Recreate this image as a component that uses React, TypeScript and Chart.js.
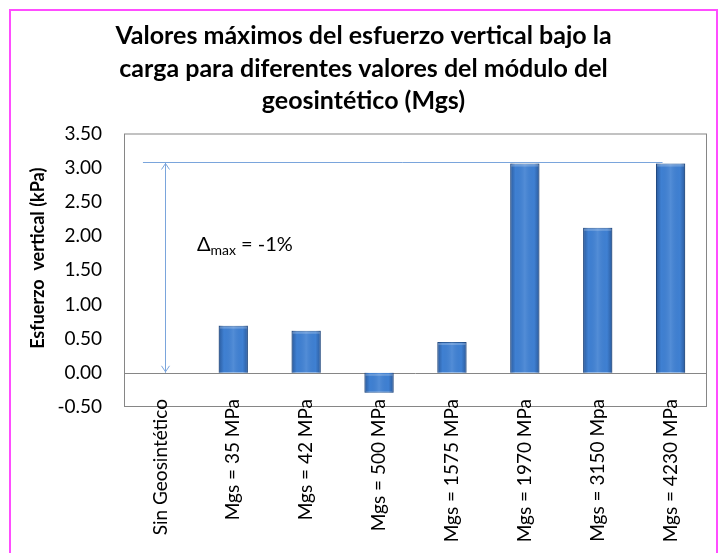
import React, { useEffect, useRef } from "react";
import { Chart, registerables } from "chart.js";

Chart.register(...registerables);

const categories = [
  "Sin Geosintético",
  "Mgs = 35 MPa",
  "Mgs = 42 MPa",
  "Mgs = 500 MPa",
  "Mgs = 1575 MPa",
  "Mgs = 1970 MPa",
  "Mgs = 3150 Mpa",
  "Mgs = 4230 MPa",
];
const esfuerzoVertical: (number | null)[] = [null, 0.69, 0.615, -0.29, 0.45, 3.06, 2.12, 3.06];

const yMin = -0.5;
const yMax = 3.5;
const yStep = 0.5;

const titleLines = [
  "Valores máximos del esfuerzo vertical bajo la",
  "carga para diferentes valores del módulo del",
  "geosintético (Mgs)",
];
const yAxisTitle = "Esfuerzo  vertical (kPa)";

// reference annotation (in data units)
const referenceValue = 3.09;
const referenceFrom = -0.24;
const referenceTo = 6.89;
const arrowCategory = 0.06;
const deltaSymbol = "Δ";
const deltaSub = "max";
const deltaText = " = -1%";
const deltaAtCategory = 0.5;
const deltaAtValue = 1.78;

const FONT = "Lato, 'Open Sans', sans-serif";

const decorPlugin = {
  id: "decor",
  beforeDraw(chart: any) {
    const { ctx, width, height } = chart;
    ctx.save();
    ctx.fillStyle = "#ffffff";
    ctx.fillRect(0, 0, width, height);
    ctx.strokeStyle = "#ff4dff";
    ctx.lineWidth = 2;
    ctx.beginPath();
    ctx.moveTo(10, height);
    ctx.lineTo(10, 10);
    ctx.lineTo(717, 10);
    ctx.lineTo(717, height);
    ctx.stroke();
    ctx.restore();
  },
  beforeDatasetsDraw(chart: any) {
    const { ctx, chartArea: a, scales } = chart;
    const y = scales.y;
    ctx.save();
    ctx.strokeStyle = "#868686";
    ctx.lineWidth = 1;
    ctx.strokeRect(a.left + 0.5, a.top + 0.5, a.right - a.left - 1, a.bottom - a.top - 1);
    const y0 = Math.round(y.getPixelForValue(0)) + 0.5;
    ctx.beginPath();
    ctx.moveTo(a.left, y0);
    ctx.lineTo(a.right, y0);
    ctx.stroke();
    ctx.restore();
  },
  afterDatasetsDraw(chart: any) {
    const { ctx, scales } = chart;
    const xs = scales.x;
    const ys = scales.y;
    const meta = chart.getDatasetMeta(0);
    ctx.save();
    meta.data.forEach((el: any) => {
      const { x, y, base, width } = el.getProps(["x", "y", "base", "width"], true);
      if (!isFinite(y) || !isFinite(base) || y === base) return;
      const left = x - width / 2;
      const top = Math.min(y, base);
      const h = Math.abs(base - y);
      const g = ctx.createLinearGradient(left, 0, left + width, 0);
      g.addColorStop(0, "rgba(15,40,85,0.42)");
      g.addColorStop(0.18, "rgba(15,40,85,0)");
      g.addColorStop(0.5, "rgba(255,255,255,0.1)");
      g.addColorStop(0.82, "rgba(15,40,85,0)");
      g.addColorStop(1, "rgba(15,40,85,0.42)");
      ctx.fillStyle = g;
      ctx.fillRect(left, top, width, h);
      ctx.fillStyle = "rgba(255,255,255,0.22)";
      ctx.fillRect(left + 1, top + 1, width - 2, 2);
    });

    // reference line & double arrow
    const yRef = Math.round(ys.getPixelForValue(referenceValue)) + 0.5;
    const y0 = ys.getPixelForValue(0);
    const xl = xs.getPixelForValue(referenceFrom);
    const xr = xs.getPixelForValue(referenceTo);
    const xa = Math.round(xs.getPixelForValue(arrowCategory)) + 0.5;
    ctx.strokeStyle = "#7aa5dc";
    ctx.lineWidth = 1;
    ctx.beginPath();
    ctx.moveTo(xl, yRef);
    ctx.lineTo(xr, yRef);
    ctx.moveTo(xa, yRef);
    ctx.lineTo(xa, y0);
    ctx.moveTo(xa - 4, yRef + 7);
    ctx.lineTo(xa, yRef + 1);
    ctx.lineTo(xa + 4, yRef + 7);
    ctx.moveTo(xa - 4, y0 - 7);
    ctx.lineTo(xa, y0 - 1);
    ctx.lineTo(xa + 4, y0 - 7);
    ctx.stroke();

    // delta text
    const tx = xs.getPixelForValue(deltaAtCategory);
    const ty = ys.getPixelForValue(deltaAtValue);
    ctx.fillStyle = "#000000";
    ctx.textBaseline = "alphabetic";
    ctx.textAlign = "left";
    ctx.font = `20px ${FONT}`;
    ctx.fillText(deltaSymbol, tx, ty);
    let cx = tx + ctx.measureText(deltaSymbol).width;
    ctx.font = `14px ${FONT}`;
    ctx.fillText(deltaSub, cx, ty + 4);
    cx += ctx.measureText(deltaSub).width;
    ctx.font = `20px ${FONT}`;
    ctx.fillText(deltaText, cx, ty);
    ctx.restore();
  },
  afterDraw(chart: any) {
    const { ctx, scales, chartArea: a } = chart;
    const xs = scales.x;
    ctx.save();
    ctx.fillStyle = "#000000";
    // category labels, rotated, placed at the library's tick positions
    ctx.font = `19px ${FONT}`;
    ctx.textAlign = "right";
    ctx.textBaseline = "middle";
    categories.forEach((label, i) => {
      const x = xs.getPixelForTick(i);
      ctx.save();
      ctx.translate(x, xs.top - 8);
      ctx.rotate(-Math.PI / 2);
      ctx.fillText(label, 0, 0);
      ctx.restore();
    });
    // y axis title
    ctx.font = `bold 18px ${FONT}`;
    ctx.textAlign = "center";
    ctx.save();
    ctx.translate(38, (a.top + a.bottom) / 2 - 12);
    ctx.rotate(-Math.PI / 2);
    ctx.fillText(yAxisTitle, 0, 0);
    ctx.restore();
    ctx.restore();
  },
};

export default function App() {
  const ref = useRef<HTMLCanvasElement | null>(null);
  useEffect(() => {
    if (!ref.current) return;
    Chart.defaults.color = "#000000";
    const chart = new Chart(ref.current, {
      type: "bar",
      data: {
        labels: categories,
        datasets: [
          {
            data: esfuerzoVertical,
            backgroundColor: "#3f80d2",
            borderColor: "#2b5d9c",
            borderWidth: 1,
            barPercentage: 0.4,
            categoryPercentage: 1,
          },
        ],
      },
      options: {
        responsive: false,
        animation: false,
        layout: { padding: { left: 20, right: 15, top: 0, bottom: 0 } },
        plugins: {
          legend: { display: false },
          tooltip: { enabled: false },
          title: {
            display: true,
            text: titleLines,
            color: "#000000",
            font: { family: FONT, size: 25, weight: "bold", lineHeight: 1.3 },
            padding: { top: 20, bottom: 16 },
          },
        },
        scales: {
          x: {
            grid: { display: false, drawTicks: false },
            border: { display: false },
            ticks: { display: false },
            afterFit(scale: any) {
              scale.height = 146;
            },
          },
          y: {
            min: yMin,
            max: yMax,
            grid: { display: false, drawTicks: false },
            border: { display: false },
            ticks: {
              stepSize: yStep,
              padding: 22,
              color: "#000000",
              font: { family: FONT, size: 19 },
              callback: (v: any) => Number(v).toFixed(2),
            },
            title: { display: false },
            afterFit(scale: any) {
              scale.width = 104;
            },
          },
        },
      },
      plugins: [decorPlugin],
    });
    return () => chart.destroy();
  }, []);
  return (
    <div style={{ position: "absolute", left: 0, top: 0, width: 722, height: 553 }}>
      <canvas ref={ref} width={722} height={553} />
    </div>
  );
}
